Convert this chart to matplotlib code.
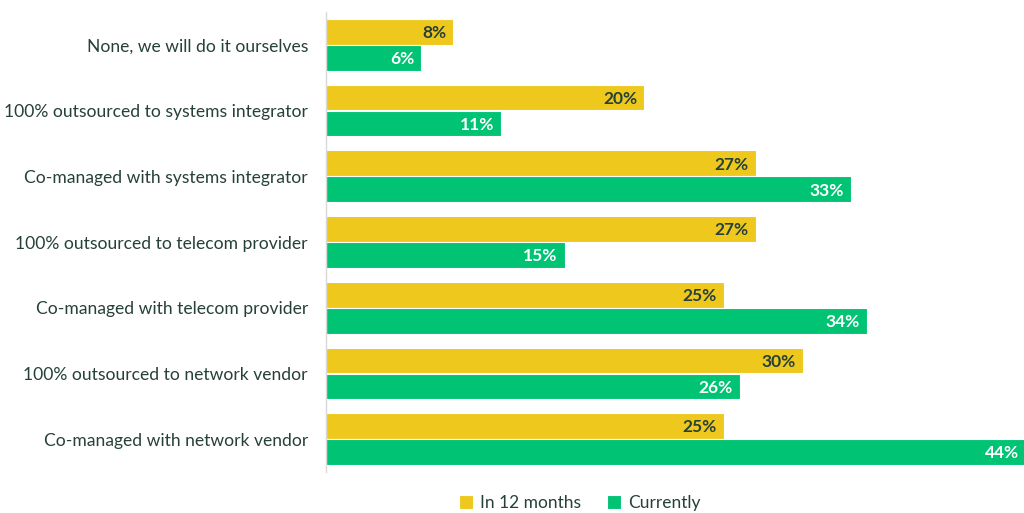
import matplotlib
matplotlib.use('Agg')
import matplotlib.pyplot as plt
import numpy as np

categories = [
    'None, we will do it ourselves',
    '100% outsourced to systems integrator',
    'Co-managed with systems integrator',
    '100% outsourced to telecom provider',
    'Co-managed with telecom provider',
    '100% outsourced to network vendor',
    'Co-managed with network vendor',
]
in_12_months = [8, 20, 27, 27, 25, 30, 25]
currently = [6, 11, 33, 15, 34, 26, 44]

YELLOW = '#EEC81C'
GREEN = '#00C373'
TEXT = '#26403A'

plt.rcParams['font.family'] = ['Lato', 'DejaVu Sans']

fig = plt.figure(figsize=(10.24, 5.13), dpi=100)
ax = fig.add_axes([326 / 1024, 1 - 472 / 513, 700 / 1024, 460 / 513])

y = np.arange(len(categories))
h = 0.39
off = 0.198
ax.barh(y - off, in_12_months, height=h, color=YELLOW, edgecolor='white', linewidth=0.8, label='In 12 months')
ax.barh(y + off, currently, height=h, color=GREEN, edgecolor='white', linewidth=0.8, label='Currently')

# value labels sit inside the bar ends
for yi, v in zip(y, in_12_months):
    ax.text(v - 0.45, yi - off + 0.02, f'{v}%', ha='right', va='center', fontsize=12.5,
            fontweight='bold', color=TEXT)
for yi, v in zip(y, currently):
    ax.text(v - 0.45, yi + off + 0.02, f'{v}%', ha='right', va='center', fontsize=12.5,
            fontweight='bold', color='white')

ax.set_xlim(0, 44)
ax.set_ylim(len(categories) - 0.5, -0.5)
ax.set_yticks(y)
ax.set_yticklabels(categories, fontsize=12.6, color=TEXT)
ax.tick_params(axis='y', length=0, pad=13)
ax.set_xticks([])
for s in ['top', 'right', 'bottom']:
    ax.spines[s].set_visible(False)
ax.spines['left'].set_color('#D9D9D9')
ax.spines['left'].set_linewidth(1)

leg = fig.legend(loc='center', bbox_to_anchor=(580 / 1024, 1 - 503 / 513), ncol=2,
                 frameon=False, fontsize=12.5, handlelength=0.8, handleheight=0.8,
                 handletextpad=0.4, columnspacing=1.5)
for t in leg.get_texts():
    t.set_color(TEXT)

fig.savefig('out.png', dpi=100)
